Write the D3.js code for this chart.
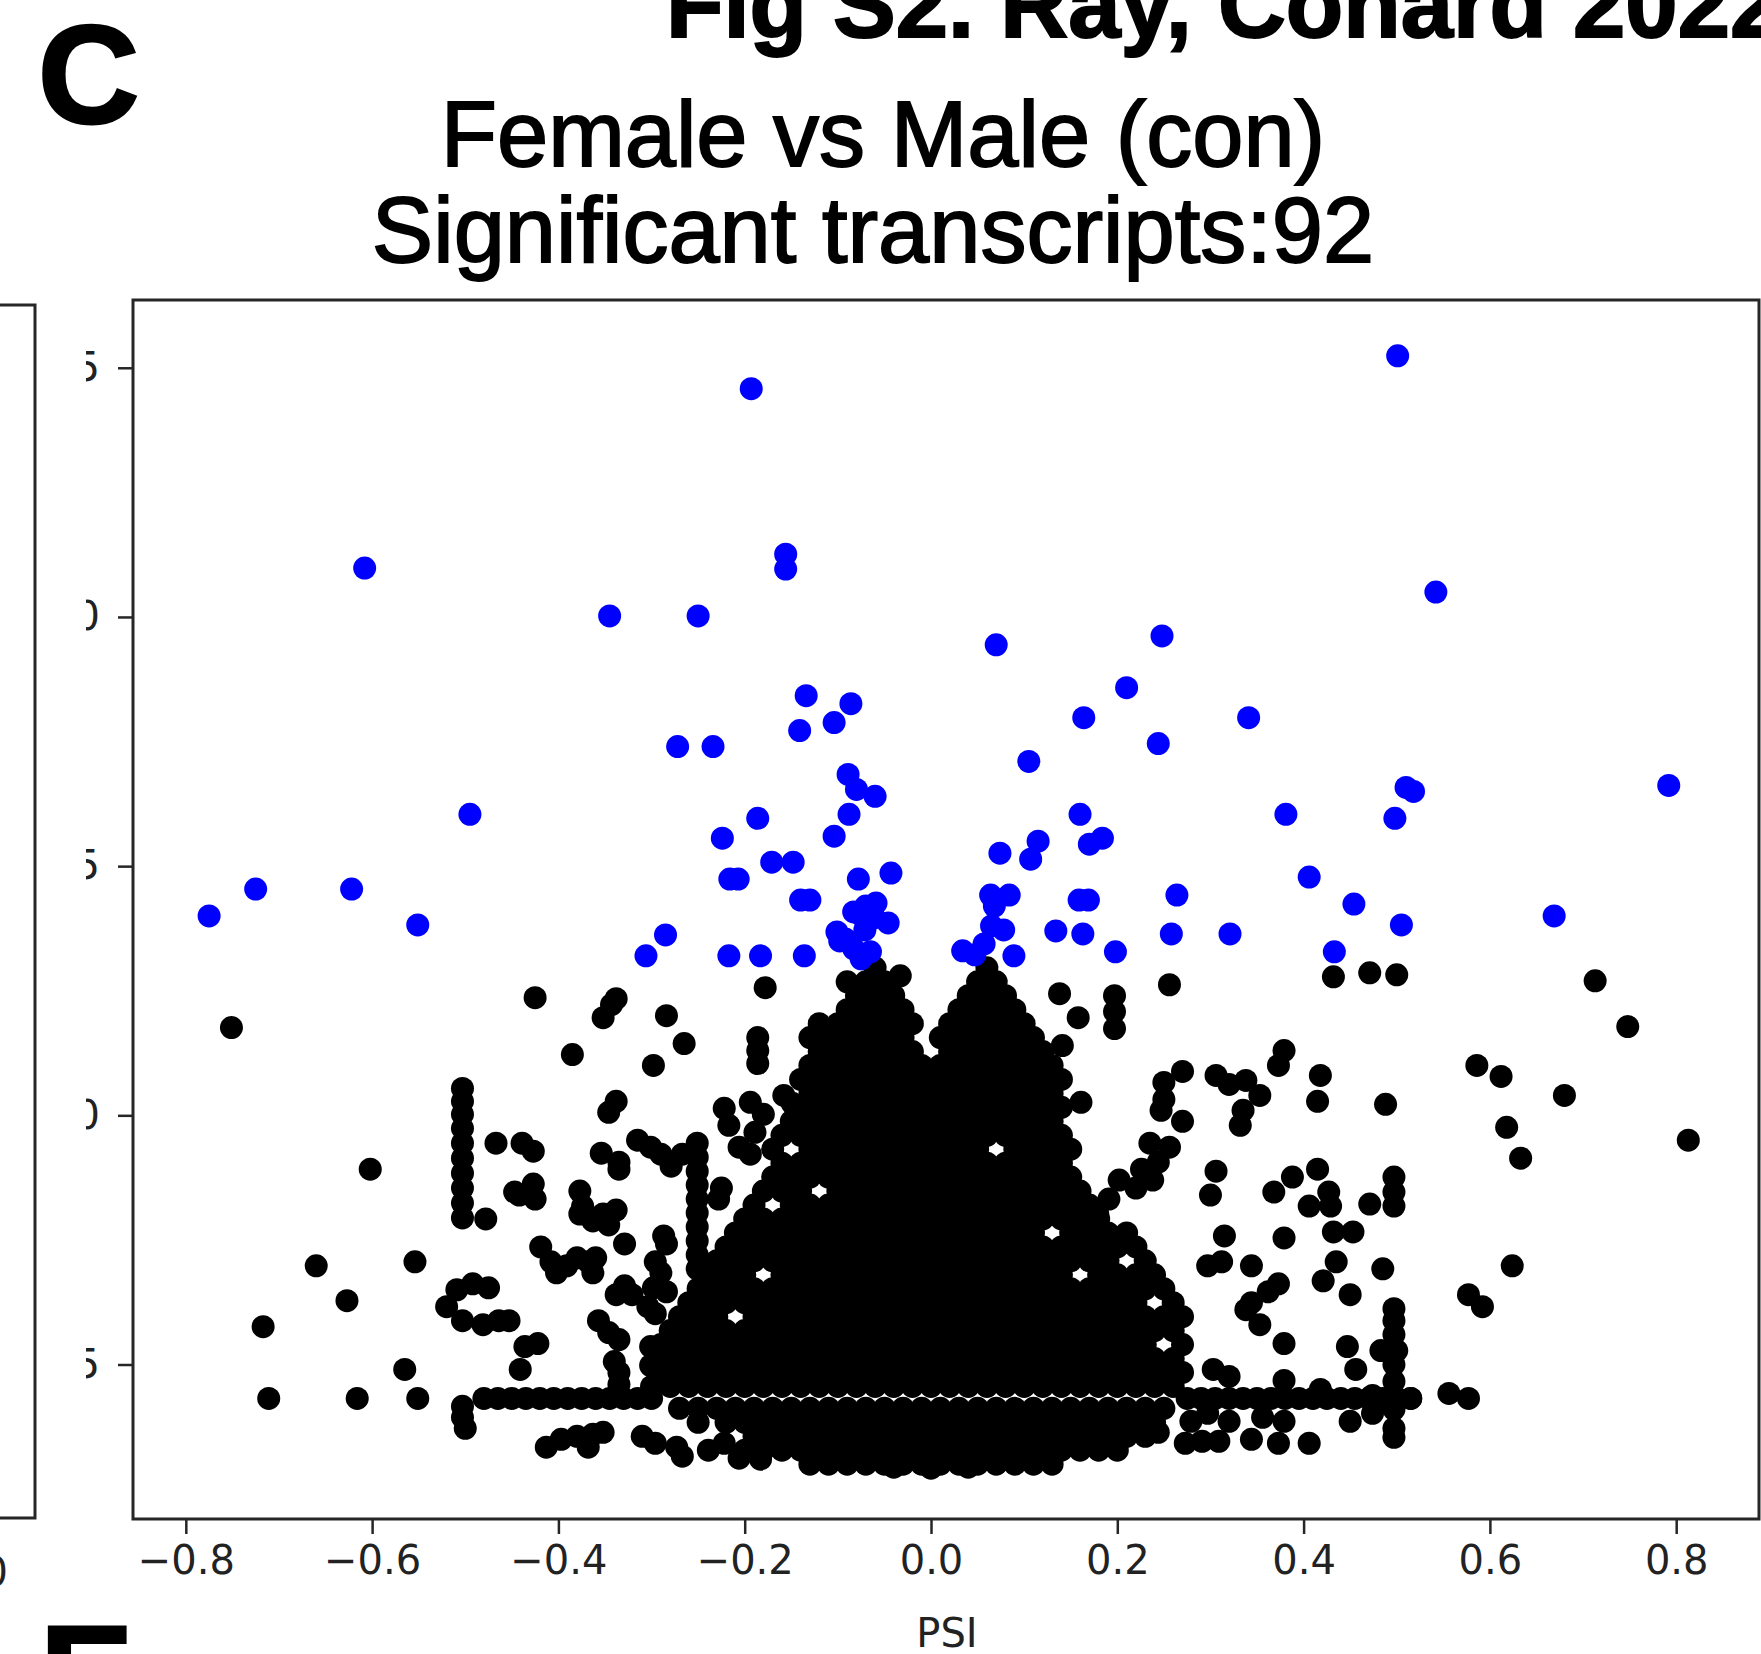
<!DOCTYPE html>
<html>
<head>
<meta charset="utf-8">
<script src="https://cdn.jsdelivr.net/npm/d3@7"></script>
<style>
body{margin:0;background:#fff;}
</style>
</head>
<body>
<script>
var width = 1761;
var height = 1654;

var xTicks = [-0.8,-0.6,-0.4,-0.2,0.0,0.2,0.4,0.6,0.8];
var yTicks = [2.5,5.0,7.5,10.0,12.5];

// significant transcripts (blue), [PSI, score]
var sigPoints = [
[0.501,12.62],[-0.193,12.29],[-0.608,10.49],[-0.156,10.63],[-0.156,10.48],[0.542,10.25],
[-0.345,10.01],[-0.250,10.01],[0.070,9.72],[0.248,9.81],[0.210,9.29],[-0.134,9.21],
[-0.086,9.13],[-0.104,8.94],[-0.141,8.86],[0.164,8.99],[0.341,8.99],[-0.272,8.70],
[-0.234,8.70],[0.244,8.73],[0.105,8.55],[-0.089,8.42],[-0.080,8.27],[-0.060,8.20],
[0.510,8.29],[0.518,8.25],[0.792,8.31],[-0.495,8.02],[-0.088,8.02],[-0.186,7.98],
[0.381,8.02],[0.498,7.98],[0.160,8.02],[-0.104,7.80],[-0.224,7.78],[0.115,7.75],
[0.170,7.72],[0.184,7.78],[0.107,7.57],[0.074,7.63],[-0.171,7.54],[-0.148,7.54],
[-0.216,7.37],[-0.207,7.37],[-0.078,7.37],[-0.043,7.43],[0.406,7.39],[-0.725,7.27],
[-0.622,7.27],[-0.775,7.00],[-0.551,6.91],[0.454,7.12],[0.264,7.21],[-0.140,7.16],
[-0.130,7.16],[0.064,7.21],[0.084,7.21],[0.159,7.16],[0.169,7.16],[-0.083,7.04],
[-0.070,7.10],[-0.059,7.13],[-0.046,6.93],[0.669,7.00],[0.505,6.91],[-0.101,6.84],
[-0.092,6.77],[0.134,6.85],[0.163,6.82],[0.065,6.90],[0.258,6.82],[0.321,6.82],
[-0.285,6.81],[-0.306,6.60],[-0.217,6.60],[-0.183,6.60],[-0.136,6.60],[-0.083,6.67],
[-0.075,6.57],[-0.065,6.64],[0.034,6.65],[0.057,6.72],[0.078,6.86],[0.089,6.60],
[0.198,6.64],[0.433,6.64],[-0.098,6.75],[-0.071,6.86],[-0.061,6.98],[0.068,7.10],
[0.047,6.61],[-0.073,6.99]
];

// dense non-significant mass, one row per score level: [score, [PSI...]]
var coreRows = [
[1.50,[-0.13,-0.11,-0.09,-0.07,-0.05,-0.03,-0.01,0.01,0.03,0.05,0.07,0.09,0.11,0.13]],
[1.64,[-0.20,-0.18,-0.16,-0.14,-0.12,-0.10,-0.08,-0.06,-0.04,-0.02,0,0.02,0.04,0.06,0.08,0.10,0.12,0.14,0.16,0.18,0.20]],
[1.78,[-0.19,-0.17,-0.15,-0.13,-0.11,-0.09,-0.07,-0.05,-0.03,-0.01,0.01,0.03,0.05,0.07,0.09,0.11,0.13,0.15,0.17,0.19,0.21,0.23]],
[1.92,[-0.25,-0.22,-0.20,-0.18,-0.16,-0.14,-0.12,-0.10,-0.08,-0.06,-0.04,-0.02,0,0.02,0.04,0.06,0.08,0.10,0.12,0.14,0.16,0.18,0.20,0.22,0.24]],
[2.06,[-0.27,-0.25,-0.23,-0.21,-0.19,-0.17,-0.15,-0.13,-0.11,-0.09,-0.07,-0.05,-0.03,-0.01,0.01,0.03,0.05,0.07,0.09,0.11,0.13,0.15,0.17,0.19,0.21,0.23,0.25]],
[2.16,[-0.48,-0.465,-0.45,-0.435,-0.42,-0.405,-0.39,-0.375,-0.36,-0.345,-0.33,-0.315,-0.30,0.275,0.29,0.305,0.32,0.335,0.35,0.365,0.38,0.395,0.41,0.425,0.44,0.455,0.47,0.485,0.50,0.515]],
[2.28,[-0.30,-0.28,-0.26,-0.24,-0.22,-0.20,-0.18,-0.16,-0.14,-0.12,-0.10,-0.08,-0.06,-0.04,-0.02,0,0.02,0.04,0.06,0.08,0.10,0.12,0.14,0.16,0.18,0.20,0.22,0.24,0.26]],
[2.42,[-0.29,-0.27,-0.25,-0.23,-0.21,-0.19,-0.17,-0.15,-0.13,-0.11,-0.09,-0.07,-0.05,-0.03,-0.01,0.01,0.03,0.05,0.07,0.09,0.11,0.13,0.15,0.17,0.19,0.21,0.23,0.25,0.27]],
[2.56,[-0.28,-0.26,-0.24,-0.22,-0.20,-0.18,-0.16,-0.14,-0.12,-0.10,-0.08,-0.06,-0.04,-0.02,0,0.02,0.04,0.06,0.08,0.10,0.12,0.14,0.16,0.18,0.20,0.22,0.24,0.26]],
[2.70,[-0.29,-0.27,-0.25,-0.23,-0.21,-0.19,-0.17,-0.15,-0.13,-0.11,-0.09,-0.07,-0.05,-0.03,-0.01,0.01,0.03,0.05,0.07,0.09,0.11,0.13,0.15,0.17,0.19,0.21,0.23,0.27]],
[2.84,[-0.28,-0.26,-0.24,-0.22,-0.20,-0.18,-0.16,-0.14,-0.12,-0.10,-0.08,-0.06,-0.04,-0.02,0,0.02,0.04,0.06,0.08,0.10,0.12,0.14,0.16,0.18,0.20,0.22,0.24,0.26]],
[2.98,[-0.27,-0.25,-0.23,-0.19,-0.17,-0.15,-0.13,-0.11,-0.09,-0.07,-0.05,-0.03,-0.01,0.01,0.03,0.05,0.07,0.09,0.11,0.13,0.15,0.17,0.19,0.21,0.23,0.25,0.27]],
[3.12,[-0.26,-0.24,-0.22,-0.20,-0.18,-0.16,-0.14,-0.12,-0.10,-0.08,-0.06,-0.04,-0.02,0,0.02,0.04,0.06,0.08,0.10,0.12,0.14,0.16,0.18,0.20,0.22,0.26]],
[3.26,[-0.25,-0.23,-0.21,-0.19,-0.17,-0.15,-0.13,-0.11,-0.09,-0.07,-0.05,-0.03,-0.01,0.01,0.03,0.05,0.07,0.09,0.11,0.13,0.15,0.17,0.19,0.21,0.23,0.25]],
[3.40,[-0.24,-0.22,-0.20,-0.16,-0.14,-0.12,-0.10,-0.08,-0.06,-0.04,-0.02,0,0.02,0.04,0.06,0.08,0.10,0.12,0.14,0.18,0.20,0.22,0.24]],
[3.54,[-0.23,-0.21,-0.19,-0.17,-0.15,-0.13,-0.11,-0.09,-0.07,-0.05,-0.03,-0.01,0.01,0.03,0.05,0.07,0.09,0.11,0.13,0.15,0.17,0.19,0.23]],
[3.68,[-0.22,-0.20,-0.18,-0.16,-0.14,-0.12,-0.10,-0.08,-0.06,-0.04,-0.02,0,0.02,0.04,0.06,0.08,0.10,0.12,0.14,0.16,0.18,0.20,0.22]],
[3.82,[-0.21,-0.19,-0.17,-0.15,-0.13,-0.11,-0.09,-0.07,-0.05,-0.03,-0.01,0.01,0.03,0.05,0.07,0.09,0.11,0.15,0.17,0.19,0.21]],
[3.96,[-0.20,-0.18,-0.16,-0.14,-0.12,-0.10,-0.08,-0.06,-0.04,-0.02,0,0.02,0.04,0.06,0.08,0.10,0.12,0.14,0.16,0.18]],
[4.10,[-0.19,-0.15,-0.13,-0.11,-0.09,-0.07,-0.05,-0.03,-0.01,0.01,0.03,0.05,0.07,0.09,0.11,0.13,0.15,0.17]],
[4.24,[-0.18,-0.16,-0.14,-0.10,-0.08,-0.06,-0.04,-0.02,0,0.02,0.04,0.06,0.08,0.10,0.12,0.14,0.16]],
[4.38,[-0.17,-0.15,-0.13,-0.11,-0.09,-0.07,-0.05,-0.03,-0.01,0.01,0.03,0.05,0.07,0.09,0.11,0.13,0.15]],
[4.52,[-0.16,-0.14,-0.12,-0.10,-0.08,-0.06,-0.04,-0.02,0,0.02,0.04,0.06,0.08,0.10,0.12,0.14]],
[4.66,[-0.17,-0.13,-0.11,-0.09,-0.07,-0.05,-0.03,-0.01,0.01,0.03,0.05,0.09,0.11,0.13,0.15]],
[4.80,[-0.16,-0.14,-0.12,-0.10,-0.08,-0.06,-0.04,-0.02,0,0.02,0.04,0.06,0.08,0.10,0.12,0.14]],
[4.94,[-0.15,-0.13,-0.11,-0.09,-0.07,-0.05,-0.03,-0.01,0.01,0.03,0.05,0.07,0.09,0.11,0.13]],
[5.08,[-0.14,-0.12,-0.10,-0.08,-0.06,-0.04,-0.02,0,0.02,0.04,0.06,0.08,0.10,0.12,0.14]],
[5.22,[-0.13,-0.11,-0.09,-0.07,-0.05,-0.03,-0.01,0.01,0.03,0.05,0.07,0.09,0.11,0.13]],
[5.36,[-0.14,-0.12,-0.10,-0.08,-0.06,-0.04,-0.02,0,0.02,0.04,0.06,0.08,0.10,0.12,0.14]],
[5.50,[-0.13,-0.11,-0.09,-0.07,-0.05,-0.03,-0.01,0.01,0.03,0.05,0.07,0.09,0.11,0.13]],
[5.64,[-0.12,-0.10,-0.08,-0.06,-0.04,-0.02,0.02,0.04,0.06,0.08,0.10,0.12]],
[5.78,[-0.13,-0.11,-0.09,-0.07,-0.05,-0.03,0.01,0.03,0.05,0.07,0.09,0.11]],
[5.92,[-0.12,-0.10,-0.08,-0.06,-0.04,-0.02,0.02,0.04,0.06,0.08,0.10]],
[6.06,[-0.09,-0.07,-0.05,-0.03,0.03,0.05,0.07,0.09]],
[6.20,[-0.08,-0.06,-0.04,0.04,0.06,0.08]],
[6.34,[-0.07,-0.05,0.05,0.07]],
[6.48,[-0.06,0.06]]
];

// scattered non-significant transcripts, [PSI, score]
var scatterPoints = [
[-0.751,5.88],[-0.660,3.49],[-0.627,3.14],[-0.717,2.88],[-0.711,2.16],[-0.616,2.16],[-0.551,2.16],
[-0.565,2.45],[-0.554,3.53],[-0.602,4.46],
[-0.503,5.27],[-0.503,5.14],[-0.503,5.01],[-0.503,4.87],[-0.503,4.72],[-0.503,4.57],[-0.503,4.42],
[-0.503,4.27],[-0.503,4.12],[-0.503,3.97],[-0.478,3.96],
[-0.467,4.72],[-0.439,4.72],[-0.427,4.64],[-0.447,4.23],[-0.427,4.31],[-0.425,4.16],[-0.442,4.20],
[-0.425,6.18],[-0.343,6.11],[-0.338,6.17],[-0.352,5.98],[-0.284,6.00],[-0.385,5.61],[-0.265,5.72],
[-0.298,5.50],[-0.178,6.28],[-0.186,5.78],[-0.186,5.65],[-0.186,5.52],[-0.158,5.20],[-0.149,5.12],
[-0.338,5.14],[-0.346,5.03],[-0.222,5.07],[-0.217,4.90],[-0.194,5.13],[-0.180,5.01],[-0.189,4.83],
[-0.206,4.68],[-0.194,4.61],[-0.315,4.75],[-0.301,4.68],[-0.290,4.61],[-0.279,4.49],[-0.267,4.61],
[-0.251,4.72],[-0.251,4.58],[-0.251,4.44],[-0.251,4.30],[-0.251,4.16],[-0.251,4.02],[-0.251,3.88],
[-0.251,3.74],[-0.251,3.60],[-0.251,3.46],[-0.225,4.27],[-0.228,4.16],
[-0.354,4.62],[-0.335,4.53],[-0.335,4.46],[-0.377,4.24],[-0.374,4.09],[-0.363,3.94],[-0.352,4.01],
[-0.338,4.05],[-0.346,3.90],[-0.377,4.01],[-0.287,3.79],[-0.284,3.71],[-0.329,3.71],
[-0.419,3.68],[-0.408,3.53],[-0.402,3.42],[-0.391,3.49],[-0.380,3.57],[-0.368,3.53],[-0.360,3.57],
[-0.363,3.42],[-0.296,3.53],[-0.290,3.42],[-0.298,3.27],[-0.284,3.23],[-0.304,3.08],[-0.296,3.01],
[-0.329,3.29],[-0.321,3.20],[-0.338,3.20],
[-0.520,3.08],[-0.509,3.25],[-0.492,3.31],[-0.475,3.27],[-0.503,2.94],[-0.481,2.90],[-0.464,2.94],
[-0.453,2.94],[-0.436,2.68],[-0.422,2.71],[-0.441,2.45],[-0.503,2.08],[-0.503,1.97],[-0.500,1.86],
[-0.357,2.94],[-0.346,2.82],[-0.335,2.75],[-0.340,2.53],[-0.335,2.42],[-0.335,2.30],
[-0.301,2.49],[-0.284,2.56],[-0.301,2.68],
[-0.413,1.67],[-0.397,1.75],[-0.380,1.78],[-0.363,1.80],[-0.352,1.82],[-0.368,1.67],
[-0.310,1.78],[-0.296,1.71],[-0.273,1.67],[-0.267,1.58],[-0.239,1.64],[-0.222,1.71],
[-0.206,1.56],[-0.183,1.55],[-0.04,1.47],[0,1.46],[0.04,1.47],[-0.033,6.40],[-0.09,6.34],
[0.432,6.39],[0.471,6.43],[0.500,6.41],[0.713,6.35],[0.748,5.89],[0.256,6.31],[0.197,6.20],
[0.197,5.87],[0.197,6.04],[0.138,6.22],[0.158,5.98],[0.141,5.70],[0.161,5.13],
[0.379,5.65],[0.373,5.50],[0.418,5.40],[0.415,5.14],[0.488,5.11],
[0.586,5.50],[0.612,5.39],[0.680,5.20],[0.618,4.88],[0.633,4.57],[0.813,4.75],
[0.270,5.44],[0.250,5.33],[0.247,5.05],[0.270,4.94],[0.250,5.16],
[0.306,5.40],[0.320,5.31],[0.338,5.35],[0.353,5.20],[0.335,5.05],[0.332,4.90],
[0.235,4.72],[0.256,4.68],[0.226,4.46],[0.244,4.53],[0.238,4.35],[0.220,4.27],
[0.306,4.44],[0.300,4.20],[0.202,4.35],[0.191,4.16],[0.179,4.01],
[0.368,4.23],[0.388,4.38],[0.415,4.46],[0.427,4.23],[0.406,4.09],[0.429,4.09],
[0.497,4.38],[0.497,4.23],[0.497,4.09],[0.471,4.11],[0.432,3.83],[0.453,3.83],[0.379,3.77],
[0.315,3.79],[0.297,3.49],[0.312,3.53],[0.344,3.49],[0.435,3.53],[0.421,3.34],[0.450,3.20],
[0.485,3.46],[0.624,3.49],[0.577,3.20],[0.592,3.08],
[0.373,3.31],[0.362,3.23],[0.344,3.12],[0.338,3.05],[0.353,2.90],[0.379,2.71],
[0.497,3.06],[0.497,2.94],[0.497,2.80],[0.497,2.50],[0.497,2.33],[0.497,2.05],
[0.447,2.68],[0.456,2.45],[0.483,2.64],[0.500,2.64],
[0.303,2.45],[0.320,2.38],[0.379,2.34],[0.418,2.25],
[0.474,2.19],[0.497,2.19],[0.515,2.16],[0.556,2.21],[0.577,2.16],
[0.450,1.93],[0.474,2.01],[0.497,1.86],[0.497,1.77],
[0.273,1.71],[0.291,1.73],[0.309,1.73],[0.344,1.75],[0.373,1.71],[0.406,1.71],[0.379,1.93],
[0.356,1.97],[0.279,1.93],[0.297,2.01],[0.320,1.93],[0.244,1.82]
];

var blackPoints = scatterPoints.slice();
coreRows.forEach(function(row){
	row[1].forEach(function(x){
		blackPoints.push([x,row[0]]);
	});
});

var padding = {top:300,right:2,bottom:135,left:133};
var frameColor = "#262626";

var xScale = d3.scaleLinear()
.domain([-0.8567,0.8889])
.range([padding.left,width - padding.right]);

var yScale = d3.scaleLinear()
.domain([0.95,13.18])
.range([height - padding.bottom,padding.top]);

var svg = d3.select("body")
.append("svg")
.attr("width",width)
.attr("height",height)
.style("background","#fff");

// figure-level labels
svg.append("text")
.attr("x",666)
.attr("y",37)
.attr("font-family","Liberation Sans, Arial, sans-serif")
.attr("font-weight","bold")
.attr("font-size","94px")
.attr("stroke","#000")
.attr("stroke-width",2)
.text("Fig S2. Ray, Conard 2022");

svg.append("text")
.attr("x",38)
.attr("y",123)
.attr("font-family","Liberation Sans, Arial, sans-serif")
.attr("font-weight","bold")
.attr("font-size","140px")
.attr("stroke","#000")
.attr("stroke-width",3)
.text("C");

svg.append("text")
.attr("x",40)
.attr("y",1723)
.attr("font-family","Liberation Sans, Arial, sans-serif")
.attr("font-weight","bold")
.attr("font-size","140px")
.attr("stroke","#000")
.attr("stroke-width",3)
.text("E");

svg.append("text")
.attr("x",883)
.attr("y",166)
.attr("text-anchor","middle")
.attr("font-family","Liberation Sans, Arial, sans-serif")
.attr("font-size","92px")
.attr("stroke","#000")
.attr("stroke-width",1.8)
.text("Female vs Male (con)");

svg.append("text")
.attr("x",873)
.attr("y",262)
.attr("text-anchor","middle")
.attr("font-family","Liberation Sans, Arial, sans-serif")
.attr("font-size","92px")
.attr("stroke","#000")
.attr("stroke-width",1.8)
.text("Significant transcripts:92");

// points
svg.append("g")
.selectAll("circle")
.data(blackPoints)
.enter()
.append("circle")
.attr("cx",function(d){ return xScale(d[0]); })
.attr("cy",function(d){ return yScale(d[1]); })
.attr("r",11.5)
.attr("fill","#000");

svg.append("g")
.selectAll("circle")
.data(sigPoints)
.enter()
.append("circle")
.attr("cx",function(d){ return xScale(d[0]); })
.attr("cy",function(d){ return yScale(d[1]); })
.attr("r",11.5)
.attr("fill","#0000ff");

// axes
var xAxis = d3.axisBottom(xScale)
.tickValues(xTicks)
.tickFormat(d3.format(".1f"))
.tickSize(15)
.tickPadding(12);

var yAxis = d3.axisLeft(yScale)
.tickValues(yTicks)
.tickFormat(d3.format(".1f"))
.tickSize(15)
.tickPadding(18);

var gx = svg.append("g")
.attr("transform","translate(0," + (height - padding.bottom) + ")")
.call(xAxis);

var gy = svg.append("g")
.attr("transform","translate(" + padding.left + ",0)")
.call(yAxis);

[gx,gy].forEach(function(g){
	g.select(".domain").remove();
	g.selectAll(".tick line").attr("stroke",frameColor).attr("stroke-width",2.5);
	g.selectAll(".tick text")
	.attr("fill","#222")
	.attr("font-family","DejaVu Sans, sans-serif")
	.attr("font-size","40px");
});

svg.append("rect")
.attr("x",padding.left)
.attr("y",padding.top)
.attr("width",width - padding.right - padding.left)
.attr("height",height - padding.bottom - padding.top)
.attr("fill","none")
.attr("stroke",frameColor)
.attr("stroke-width",3);

svg.append("text")
.attr("x",947)
.attr("y",1647)
.attr("text-anchor","middle")
.attr("fill","#222")
.attr("font-family","DejaVu Sans, sans-serif")
.attr("font-size","40px")
.text("PSI");

// neighbouring panel overlaps the y tick labels
svg.append("rect")
.attr("x",0)
.attr("y",296)
.attr("width",86)
.attr("height",1244)
.attr("fill","#fff");

svg.append("path")
.attr("d","M0,305 L35,305 L35,1518 L0,1518")
.attr("fill","none")
.attr("stroke",frameColor)
.attr("stroke-width",3);

svg.append("text")
.attr("x",8)
.attr("y",1586)
.attr("text-anchor","end")
.attr("fill","#222")
.attr("font-family","DejaVu Sans, sans-serif")
.attr("font-size","40px")
.text("0");
</script>
</body>
</html>
